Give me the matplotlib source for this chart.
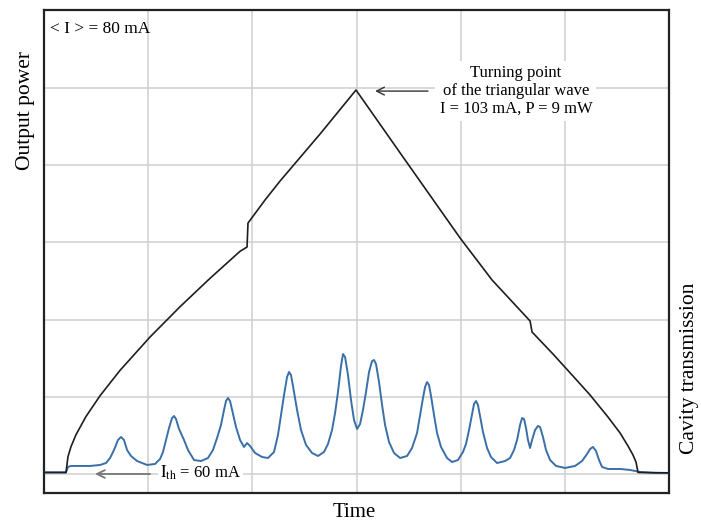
import numpy as np
import matplotlib
matplotlib.use("Agg")
import matplotlib.pyplot as plt

plt.rcParams['font.family'] = ['Liberation Serif', 'DejaVu Serif']
plt.rcParams['mathtext.fontset'] = 'stix'

# output power (black), time in arbitrary units 0..600, power in grid units (10 per division)
power_t = [0, 21.1, 23.0, 25.9, 30.7, 40.3, 53.8, 73.0, 101.8, 130.6, 159.4, 188.2, 194.9,
           195.8, 212.2, 226.6, 265.0, 299.5,
           341.8, 399.4, 430.1, 466.6, 468.5, 488.6, 507.8, 524.2, 541.4, 553.0, 560.6,
           565.4, 568.3, 570.2, 600]
power_v = [0.2, 0.2, 2.25, 3.54, 5.09, 7.45, 10.14, 13.43, 17.75, 21.67, 25.35, 28.85, 29.4,
           32.5, 35.5, 37.95, 44.04, 49.74,
           41.6, 30.57, 25.13, 19.82, 18.39, 15.54, 12.69, 10.23, 7.38, 5.31, 3.63,
           2.46, 1.55, 0.2, 0.15]

# cavity transmission (blue)
trans_t = [0, 21.1, 23.0, 25.9, 44.2, 53.8, 59.5, 63.4, 67.2, 71.0, 73.9, 76.8, 79.7, 83.5,
           89.3, 98.9, 106.6, 111.4, 114.2, 117.1, 120.0, 122.9, 124.8, 126.7, 129.6, 134.4,
           138.2, 144.0, 150.7, 157.4, 162.2, 166.1, 169.9, 172.8, 174.7, 176.6, 178.6, 181.4,
           184.3, 188.2, 192.0, 194.9, 197.8, 202.6, 209.3, 215.0, 220.8, 224.6, 227.5, 230.4,
           233.3, 235.2, 237.1, 240.0, 242.9, 246.7, 251.5, 257.3, 263.0, 268.8, 272.6, 276.5,
           279.4, 282.2, 285.1, 287.0, 289.0, 291.8, 294.7, 297.6, 300.5, 303.4, 306.2, 309.1,
           312.0, 314.9, 316.8, 318.7, 321.6, 324.5, 327.4, 331.2, 336.0, 341.8, 348.5, 353.3,
           358.1, 361.0, 363.8, 365.8, 367.7, 369.6, 371.5, 374.4, 377.3, 381.1, 386.9, 391.7,
           397.4, 402.2, 405.1, 408.0, 410.9, 412.8, 414.7, 416.6, 418.6, 421.4, 425.3, 429.1,
           434.9, 442.6, 447.4, 451.2, 454.1, 457.0, 458.9, 460.8, 462.7, 464.6, 466.6, 468.5,
           471.4, 474.2, 476.2, 479.0, 481.9, 485.8, 491.5, 500.2, 509.8, 516.5, 521.3, 524.2,
           527.0, 529.9, 532.8, 535.7, 541.4, 553.0, 562.6, 572.2, 586.6, 600]
trans_v = [0.2, 0.2, 0.91, 1.04, 1.04, 1.17, 1.42, 2.07, 3.11, 4.40, 4.79, 4.40, 3.11, 2.33,
           1.68, 1.17, 1.30, 1.94, 2.85, 4.40, 5.96, 7.25, 7.51, 7.12, 5.83, 4.40,
           3.11, 1.81, 1.68, 2.07, 3.11, 4.66, 6.35, 8.29, 9.45, 9.84, 9.45, 7.77,
           6.09, 4.40, 3.50, 4.01, 3.63, 2.72, 2.20, 2.07, 2.85, 5.05, 7.64, 10.23,
           12.56, 13.21, 12.82, 10.62, 8.29, 5.70, 3.76, 2.72, 2.33, 2.85, 3.89, 5.70,
           7.90, 10.62, 13.99, 15.54, 15.15, 12.82, 9.58, 6.99, 5.83, 6.48, 8.29, 10.62,
           13.21, 14.63, 14.76, 14.25, 11.91, 8.94, 6.35, 4.14, 2.72, 2.07, 2.33, 3.37,
           5.31, 7.64, 9.84, 11.27, 11.91, 11.53, 10.10, 7.64, 5.31, 3.50, 2.07, 1.55,
           1.81, 2.85, 3.89, 5.70, 7.77, 9.07, 9.45, 8.94, 7.51, 5.44, 3.37, 2.20,
           1.42, 1.68, 2.07, 3.11, 4.40, 6.35, 7.25, 7.12, 5.96, 4.40, 3.37, 4.40,
           5.70, 6.22, 6.09, 4.79, 3.11, 1.81, 1.04, 0.78, 1.04, 1.68, 2.59, 3.24,
           3.50, 2.98, 1.81, 0.91, 0.65, 0.65, 0.52, 0.26, 0.13, 0.13]

fig = plt.figure(figsize=(7.01, 5.22), dpi=100)
ax = fig.add_axes([0.0628, 0.0556, 0.8916, 0.9252])
ax.set_xlim(0, 600)
ax.set_ylim(-2.46, 60.1)

ax.set_xticks([100, 200, 300, 400, 500])
ax.set_yticks([0, 10, 20, 30, 40, 50])
ax.tick_params(length=0, labelbottom=False, labelleft=False)
ax.grid(True, color='#cfcfcf', lw=1.1)
ax.set_axisbelow(True)
for s in ax.spines.values():
    s.set_linewidth(1.6)
    s.set_color('#222222')

ax.plot(trans_t, trans_v, color='#3a6fa8', lw=1.4, zorder=3)
ax.plot(power_t, power_v, color='#1e1e1e', lw=1.2, zorder=4)

ax.text(5.8, 57.6, '< I > = 80 mA', fontsize=12.5, ha='left', va='center')

ax.text(453, 49.6, 'Turning point\nof the triangular wave\nI = 103 mA, P = 9 mW',
        fontsize=12, ha='center', va='center', multialignment='center', linespacing=1.15,
        bbox=dict(facecolor='white', edgecolor='none', pad=3), zorder=5)
ax.annotate('', xy=(317.8, 49.6), xytext=(368.6, 49.6),
            arrowprops=dict(arrowstyle='->', color='#333333', lw=1.0,
                            shrinkA=0, shrinkB=0, mutation_scale=14), zorder=5)

ax.text(111.4, 0.1, r'$\mathrm{I_{th}}$ = 60 mA', fontsize=12, ha='left', va='center',
        bbox=dict(facecolor='white', edgecolor='none', pad=1.5), zorder=5)
ax.annotate('', xy=(49, 0.0), xytext=(101.8, 0.0),
            arrowprops=dict(arrowstyle='->', color='#777777', lw=1.3,
                            shrinkA=0, shrinkB=0, mutation_scale=14), zorder=5)

fig.text(0.505, 0.018, 'Time', fontsize=15, ha='center', va='center')
fig.text(0.036, 1 - 110 / 522, 'Output power', fontsize=15.5, rotation=90,
         ha='center', va='center')
fig.text(0.984, 1 - 368 / 522, 'Cavity transmission', fontsize=15.5, rotation=90,
         ha='center', va='center')

fig.savefig('out.png', dpi=100)
